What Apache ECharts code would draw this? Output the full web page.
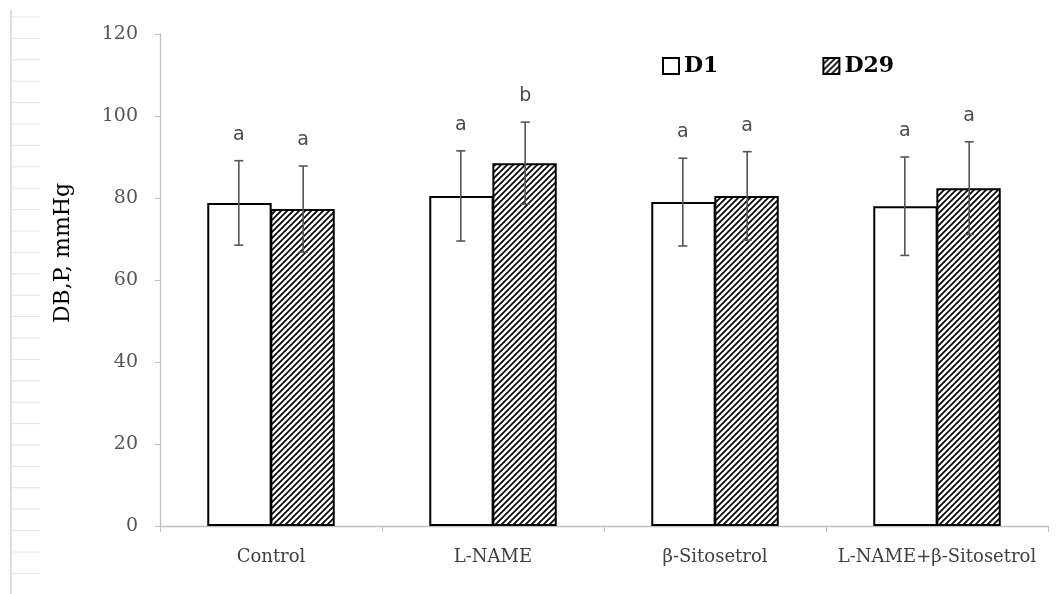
<!DOCTYPE html>
<html>
<head>
<meta charset="utf-8">
<script src="https://cdn.jsdelivr.net/npm/echarts@6/dist/echarts.min.js"></script>
<style>html,body{margin:0;padding:0;background:#fff;}#c{width:1057px;height:594px;}</style>
</head>
<body>
<div id="c"></div>
<script>
const categories = ['Control', 'L-NAME', 'β-Sitosetrol', 'L-NAME+β-Sitosetrol'];
const d1Values = [78.8, 80.5, 79.0, 78.0];
const d29Values = [77.3, 88.5, 80.5, 82.4];
const d1Errors = [10.3, 11.0, 10.7, 12.0];
const d29Errors = [10.5, 10.0, 10.8, 11.3];
const d1Letters = ['a', 'a', 'a', 'a'];
const d29Letters = ['a', 'b', 'a', 'a'];
const yAxisName = 'DB,P, mmHg';

const BAR_FRAC = 0.29;

// hatch pattern
const pc = document.createElement('canvas');
pc.width = 6; pc.height = 6;
const pctx = pc.getContext('2d');
pctx.fillStyle = '#fff';
pctx.fillRect(0, 0, 6, 6);
pctx.strokeStyle = '#000';
pctx.lineWidth = 1.7;
pctx.beginPath();
pctx.moveTo(-1, 7); pctx.lineTo(7, -1);
pctx.moveTo(-4, 4); pctx.lineTo(4, -4);
pctx.moveTo(2, 10); pctx.lineTo(10, 2);
pctx.stroke();

function errSeries(vals, errs, letters, sign) {
  return {
    type: 'custom',
    z: 10,
    silent: true,
    encode: { x: 0, y: 1 },
    data: vals.map((v, i) => [i, v, errs[i]]),
    renderItem: function (params, api) {
      const i = api.value(0), v = api.value(1), e = api.value(2);
      const band = api.size([1, 0])[0];
      const x = api.coord([i, v])[0] + sign * band * BAR_FRAC / 2;
      const yt = api.coord([i, v + e])[1];
      const yb = api.coord([i, v - e])[1];
      const cap = 4.5;
      const st = { stroke: '#555', lineWidth: 1.6 };
      return {
        type: 'group',
        children: [
          { type: 'line', shape: { x1: x, y1: yt, x2: x, y2: yb }, style: st },
          { type: 'line', shape: { x1: x - cap, y1: yt, x2: x + cap, y2: yt }, style: st },
          { type: 'line', shape: { x1: x - cap, y1: yb, x2: x + cap, y2: yb }, style: st },
          { type: 'text', style: { text: letters[params.dataIndex], x: x, y: yt - 26,
              fill: '#4a4a4a', font: '19px "DejaVu Sans"', align: 'center', verticalAlign: 'middle' } }
        ]
      };
    }
  };
}

// decorative ruler on the left edge
const ruler = [{ type: 'line', shape: { x1: 11, y1: 10, x2: 11, y2: 594 }, style: { stroke: '#c8c8c8', lineWidth: 1.2 } }];
for (let k = 0; k < 27; k++) {
  const y = 17 + k * 21.4;
  ruler.push({ type: 'line', shape: { x1: 12, y1: y, x2: 40, y2: y }, style: { stroke: '#e2e2e2', lineWidth: 1 } });
}

const chart = echarts.init(document.getElementById('c'));
chart.setOption({
  animation: false,
  backgroundColor: '#fff',
  grid: { left: 160, right: 9, top: 34, bottom: 68 },
  legend: {
    data: ['D1', 'D29'],
    left: 657, top: 50,
    itemWidth: 16, itemHeight: 16,
    itemGap: 104,
    icon: 'rect',
    textStyle: { fontFamily: 'DejaVu Serif', fontWeight: 'bold', fontSize: 22, color: '#000' }
  },
  xAxis: {
    type: 'category',
    data: categories,
    axisLine: { lineStyle: { color: '#c0c0c0', width: 1.3 } },
    axisTick: { show: true, length: 6, lineStyle: { color: '#c0c0c0' } },
    axisLabel: { interval: 0, fontFamily: 'DejaVu Serif', fontSize: 18, color: '#404040', margin: 22 }
  },
  yAxis: {
    type: 'value',
    min: 0, max: 120, interval: 20,
    axisLine: { show: true, lineStyle: { color: '#c0c0c0', width: 1.3 } },
    axisTick: { show: true, length: 5, lineStyle: { color: '#c0c0c0' } },
    splitLine: { show: false },
    axisLabel: { fontFamily: 'DejaVu Serif', fontSize: 19, color: '#555', margin: 22 }
  },
  graphic: ruler.concat([{
    type: 'text', x: 63, y: 253, rotation: Math.PI / 2,
    style: { text: yAxisName, font: '22px "DejaVu Serif"', fill: '#000', align: 'center', verticalAlign: 'middle' }
  }]),
  series: [
    {
      name: 'D1', type: 'bar', data: d1Values,
      barWidth: (BAR_FRAC * 100) + '%', barGap: '-2%',
      itemStyle: { color: '#fff', borderColor: '#000', borderWidth: 2 }
    },
    {
      name: 'D29', type: 'bar', data: d29Values,
      barWidth: (BAR_FRAC * 100) + '%', barGap: '-2%',
      itemStyle: { color: { image: pc, repeat: 'repeat' }, borderColor: '#000', borderWidth: 2 }
    },
    errSeries(d1Values, d1Errors, d1Letters, -1),
    errSeries(d29Values, d29Errors, d29Letters, 1)
  ]
});
</script>
</body>
</html>
